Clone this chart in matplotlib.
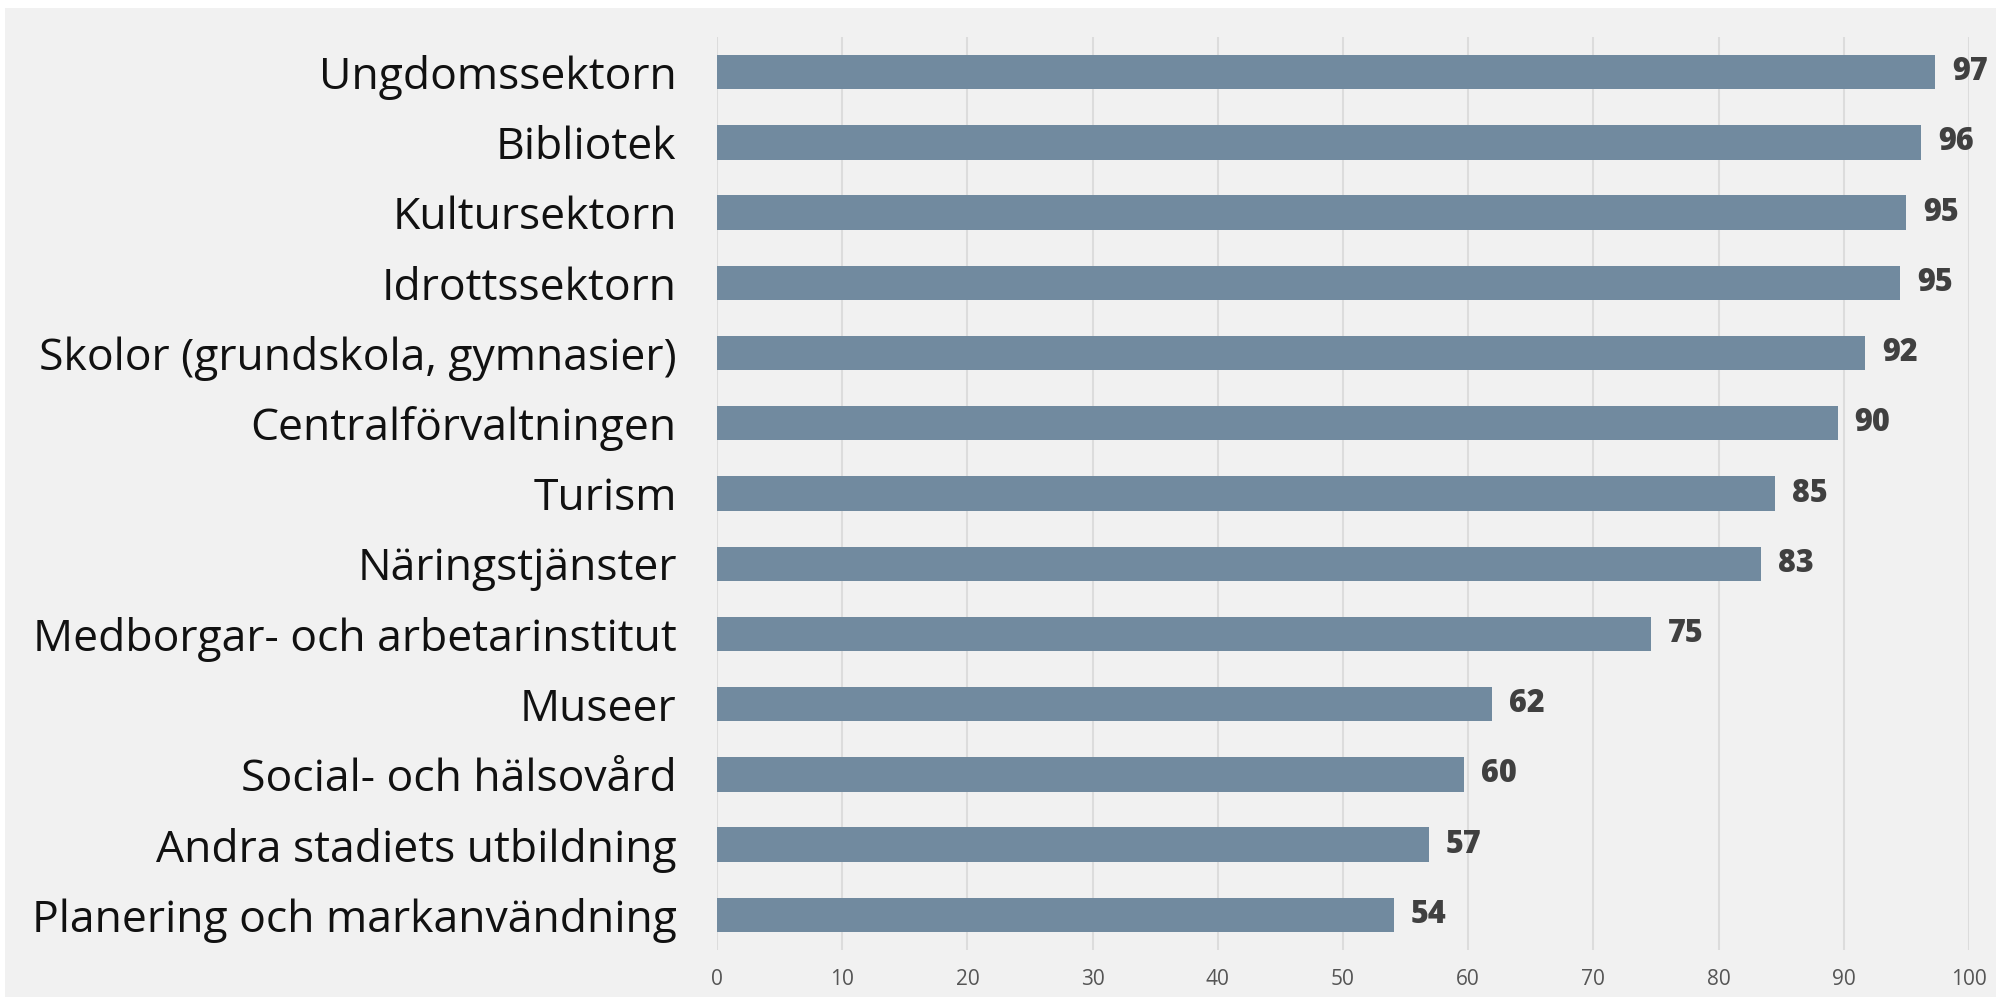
import matplotlib.pyplot as plt
from matplotlib.patches import Rectangle

categories = [
    "Ungdomssektorn",
    "Bibliotek",
    "Kultursektorn",
    "Idrottssektorn",
    "Skolor (grundskola, gymnasier)",
    "Centralförvaltningen",
    "Turism",
    "Näringstjänster",
    "Medborgar- och arbetarinstitut",
    "Museer",
    "Social- och hälsovård",
    "Andra stadiets utbildning",
    "Planering och markanvändning",
]
values = [97.3, 96.2, 95.0, 94.5, 91.7, 89.5, 84.5, 83.4, 74.6, 61.9, 59.7, 56.9, 54.1]
value_labels = ["97", "96", "95", "95", "92", "90", "85", "83", "75", "62", "60", "57", "54"]
x_ticks = [0, 10, 20, 30, 40, 50, 60, 70, 80, 90, 100]

BG = "#f1f1f1"
BAR = "#718a9f"
GRID = "#dcdcdc"

fig = plt.figure(figsize=(19.96, 9.97), dpi=100, facecolor="white")
fig.patches.append(Rectangle((5 / 1996, 0), 1, 1 - 8 / 997, transform=fig.transFigure,
                             facecolor=BG, edgecolor="none", zorder=-10))

ax = fig.add_axes([717 / 1996, 47 / 997, (1969 - 717) / 1996, (950 - 37) / 997])
ax.set_facecolor(BG)
ax.patch.set_alpha(0)

y = list(range(len(categories)))
ax.barh(y, values, height=0.49, color=BAR, zorder=2)
for yi, v, lab in zip(y, values, value_labels):
    ax.annotate(lab, (v, yi), xytext=(12, 0), textcoords="offset points",
                ha="left", va="center", fontsize=22, fontweight=800,
                family="Open Sans", color="#404040")

ax.set_xlim(0, 100)
ax.set_ylim(12.5, -0.5)
ax.set_yticks(y)
ax.set_yticklabels(categories, family="Open Sans", fontsize=32, color="#111111")
ax.set_xticks(x_ticks)
ax.set_xticklabels([str(t) for t in x_ticks], family="Open Sans", fontsize=15, color="#555555")
ax.tick_params(axis="y", length=0, pad=29)
ax.tick_params(axis="x", length=0, pad=14)
ax.grid(axis="x", color=GRID, linewidth=1.5, zorder=0)
for s in ax.spines.values():
    s.set_visible(False)

fig.savefig("out.png", dpi=100, facecolor="white")
